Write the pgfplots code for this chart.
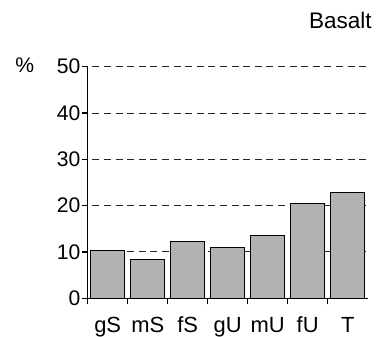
\documentclass[border=0pt]{standalone}
\usepackage{fontspec}
\setmainfont{Liberation Sans}
\usepackage{pgfplots}
\pgfplotsset{compat=1.18}
\definecolor{barfill}{gray}{0.70}
\begin{document}
\begin{tikzpicture}
\path[use as bounding box] (-43.85bp,-19.35bp) rectangle (147.65bp,149.15bp);
\begin{axis}[
  at={(0,0)}, anchor=south west,
  scale only axis, width=140bp, height=115.8bp,
  xmin=-0.5, xmax=6.5, ymin=0, ymax=50,
  axis x line=bottom, axis y line=left,
  axis line style={-, line width=0.6bp, black},
  tick align=outside,
  major tick length=3bp,
  tick style={line width=0.6bp, black},
  ytick={0,10,...,50},
  % ticks sit between the categories; labels are moved half a slot right
  xtick={-0.5,0.5,...,5.5},
  xticklabels={gS,mS,fS,gU,mU,fU,T},
  xticklabel style={anchor=base, xshift=10bp, yshift=-14bp, font=\fontsize{11}{13}\selectfont},
  yticklabel style={inner sep=0.5bp, font=\fontsize{10.6}{12}\selectfont},
  ymajorgrids,
  grid style={line width=0.5bp, black!85, dash pattern=on 3.5bp off 2.3bp, dash phase=3.5bp},
  /pgf/number format/assume math mode=true,
  ybar, bar width=17bp,
  clip=false,
]
\addplot[fill=barfill, draw=black, line width=0.5bp] coordinates {
  (0,10.4) (1,8.4) (2,12.3) (3,10.9) (4,13.6) (5,20.5) (6,22.8)
};
\end{axis}
\node[anchor=base east, inner sep=0pt, font=\fontsize{11.3}{13}\selectfont] at (142.15bp,135bp) {Basalt};
\node[anchor=base west, inner sep=0pt, font=\fontsize{10.6}{12}\selectfont] at (-36.35bp,112.65bp) {\%};
\end{tikzpicture}
\end{document}
